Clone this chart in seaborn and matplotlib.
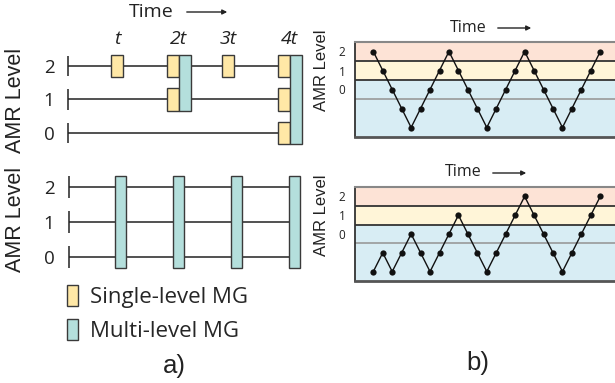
import matplotlib
matplotlib.use("Agg")
import matplotlib.pyplot as plt
import seaborn as sns
import pandas as pd
from matplotlib.patches import Patch

sns.set_theme(style="white")
plt.rcParams["font.family"] = ["Open Sans", "DejaVu Sans"]

# ---------------- data ----------------
amr_levels = [0, 1, 2]
level_labels = ["0", "1", "2"]
time_ticks = [1, 2, 3, 4]
time_tick_labels = ["t", "2t", "3t", "4t"]
# panel a (top): single-level MG events
single_time = [1, 2, 3, 4, 2, 4, 4]
single_level = [2, 2, 2, 2, 1, 1, 0]
# panel a (top): multi-level MG events spanning levels low..high
multi_time = [2, 4]
multi_low = [1, 0]
multi_high = [2, 2]
# panel a (bottom): multi-level MG at every step over all levels
multi_all_time = [1, 2, 3, 4]
# panel b: AMR level per time step
steps = list(range(25))
level_b_top = [2, 1, 0, -1, -2, -1, 0, 1, 2, 1, 0, -1, -2, -1, 0, 1, 2, 1, 0, -1, -2, -1, 0, 1, 2]
level_b_bottom = [-2, -1, -2, -1, 0, -1, -2, -1, 0, 1, 0, -1, -2, -1, 0, 1, 2, 1, 0, -1, -2, -1, 0, 1, 2]
legend_labels = ["Single-level MG", "Multi-level MG"]

# ---------------- style ----------------
YEL = "#ffe8a6"
TEAL = "#b4dfdc"
EDGE = "#3a3a3a"
BAND_RED = "#fde3d6"
BAND_YEL = "#fff5d8"
BAND_BLUE = "#d8edf4"
W, H = 615, 383

fig = plt.figure(figsize=(W / 100, H / 100), dpi=100)


def add_ax(x0, x1, y0, y1):
    return fig.add_axes([x0 / W, 1 - y1 / H, (x1 - x0) / W, (y1 - y0) / H])


def ftext(x, y, s, **kw):
    fig.text(x / W, 1 - y / H, s, **kw)


def farrow(x0, x1, y):
    fig.add_artist(matplotlib.patches.FancyArrowPatch(
        (x0 / W, 1 - y / H), (x1 / W, 1 - y / H), transform=fig.transFigure,
        arrowstyle="-|>", mutation_scale=7, lw=1.0, color="#222222"))


def clean(ax):
    for s in ax.spines.values():
        s.set_visible(False)
    ax.set_xticks([])
    ax.tick_params(axis="y", length=0, pad=2.5, labelsize=13.5, colors="#222222")
    ax.set_yticks(amr_levels)
    ax.set_yticklabels(level_labels)
    ax.set_xlabel("")
    ax.set_ylabel("")


# ---------- panel a, top ----------
ax1 = add_ax(58, 312, 45, 150)
ax1.set_xlim((58 - 61.65) / 55.55, (312 - 61.65) / 55.55)
ax1.set_ylim((133 - 150) / 33.5, (133 - 45) / 33.5)
line_start = 0.114
bw, bh = 0.216, 0.67
ax1.hlines(amr_levels, line_start, max(time_ticks), color="#222222", lw=1.1, zorder=1)
ax1.vlines([line_start] * 3, [l - 0.3 for l in amr_levels], [l + 0.3 for l in amr_levels],
           color="#222222", lw=1.1, zorder=1)
ax1.bar(single_time, bh, bottom=[l - bh / 2 for l in single_level], width=bw,
        color=YEL, edgecolor=EDGE, lw=1.0, zorder=3)
ax1.bar([t + bw for t in multi_time], [h - l + bh for l, h in zip(multi_low, multi_high)],
        bottom=[l - bh / 2 for l in multi_low], width=bw,
        color=TEAL, edgecolor=EDGE, lw=1.0, zorder=3)
clean(ax1)
for t, lab in zip(time_ticks, time_tick_labels):
    off = bw / 2 if t in multi_time else 0
    ax1.text(t + off, 2.82, lab, ha="center", va="center", fontsize=14,
             style="italic", color="#222222", clip_on=False)

# ---------- panel a, bottom ----------
ax2 = add_ax(58, 312, 160, 285)
ax2.set_xlim((58 - 62.5) / 58, (312 - 62.5) / 58)
ax2.set_ylim((257 - 285) / 35, (257 - 160) / 35)
line_start2 = 0.112
ax2.hlines(amr_levels, line_start2, max(multi_all_time) + 0.1, color="#222222", lw=1.1, zorder=1)
ax2.vlines([line_start2] * 3, [l - 0.31 for l in amr_levels], [l + 0.31 for l in amr_levels],
           color="#222222", lw=1.1, zorder=1)
ax2.bar(multi_all_time, max(amr_levels) - min(amr_levels) + 0.63,
        bottom=min(amr_levels) - 0.315, width=0.19,
        color=TEAL, edgecolor=EDGE, lw=1.0, zorder=3)
clean(ax2)

handles = [Patch(facecolor=YEL, edgecolor=EDGE, lw=1.0),
           Patch(facecolor=TEAL, edgecolor=EDGE, lw=1.0)]
fig.legend(handles, legend_labels, loc="upper left",
           bbox_to_anchor=(67 / W, 1 - 285 / H), frameon=False,
           prop={"family": "Open Sans", "size": 16},
           handlelength=0.5, handleheight=1.05, handletextpad=0.55,
           labelspacing=0.5, borderpad=0, borderaxespad=0)

ftext(16, 100, "AMR Level", rotation=90, ha="center", va="center",
      fontsize=15.5, family="Liberation Sans", color="#222222")
ftext(16, 219, "AMR Level", rotation=90, ha="center", va="center",
      fontsize=15.5, family="Liberation Sans", color="#222222")
ftext(151.5, 12, "Time", ha="center", va="center", fontsize=14, color="#222222")
farrow(184, 230, 12)
ftext(174, 366, "a)", ha="center", va="center", fontsize=18.5,
      family="Liberation Sans", color="#222222")


# ---------- panel b ----------
def band_panel(y0, y1, levels):
    ax = add_ax(355, 617, y0, y1)
    ax.set_xlim((355 - 373.3) / 9.458, (617 - 373.3) / 9.458)
    ax.set_ylim(-2.5, 2.5)
    ax.axhspan(1.5, 2.5, color=BAND_RED, lw=0, zorder=0)
    ax.axhspan(0.5, 1.5, color=BAND_YEL, lw=0, zorder=0)
    ax.axhspan(-2.5, 0.5, color=BAND_BLUE, lw=0, zorder=0)
    ax.axhline(1.5, color="#333333", lw=1.3, zorder=1)
    ax.axhline(0.5, color="#333333", lw=1.3, zorder=1)
    ax.axhline(-0.5, color="#999999", lw=1.2, zorder=1)
    df = pd.DataFrame({"step": steps, "level": levels})
    sns.lineplot(data=df, x="step", y="level", ax=ax, color="#111111", lw=1.0,
                 marker="o", markersize=4.5, markeredgewidth=0, zorder=3)
    for s in ax.spines.values():
        s.set_visible(False)
    ax.spines["left"].set_visible(True)
    ax.spines["left"].set_color("#333333")
    ax.spines["left"].set_linewidth(1.3)
    ax.spines["top"].set_visible(True)
    ax.spines["top"].set_color("#888888")
    ax.spines["top"].set_linewidth(1.5)
    ax.spines["bottom"].set_visible(True)
    ax.spines["bottom"].set_color("#555555")
    ax.spines["bottom"].set_linewidth(2.0)
    ax.set_xticks([])
    ax.set_yticks(amr_levels)
    ax.set_yticklabels(level_labels)
    ax.tick_params(axis="y", length=0, pad=7, labelsize=8.5, colors="#222222")
    ax.set_xlabel("")
    ax.set_ylabel("")
    return ax


band_panel(42, 137, level_b_top)
band_panel(187, 281, level_b_bottom)

ftext(322, 70, "AMR Level", rotation=90, ha="center", va="center",
      fontsize=12, family="Liberation Sans", color="#222222")
ftext(322, 215, "AMR Level", rotation=90, ha="center", va="center",
      fontsize=12, family="Liberation Sans", color="#222222")
ftext(468, 28, "Time", ha="center", va="center", fontsize=11.5, color="#222222")
farrow(495, 534, 28)
ftext(463.5, 172, "Time", ha="center", va="center", fontsize=11.5, color="#222222")
farrow(490, 529, 173)
ftext(477.5, 363, "b)", ha="center", va="center", fontsize=18.5,
      family="Liberation Sans", color="#222222")

fig.savefig("out.png", dpi=100)
